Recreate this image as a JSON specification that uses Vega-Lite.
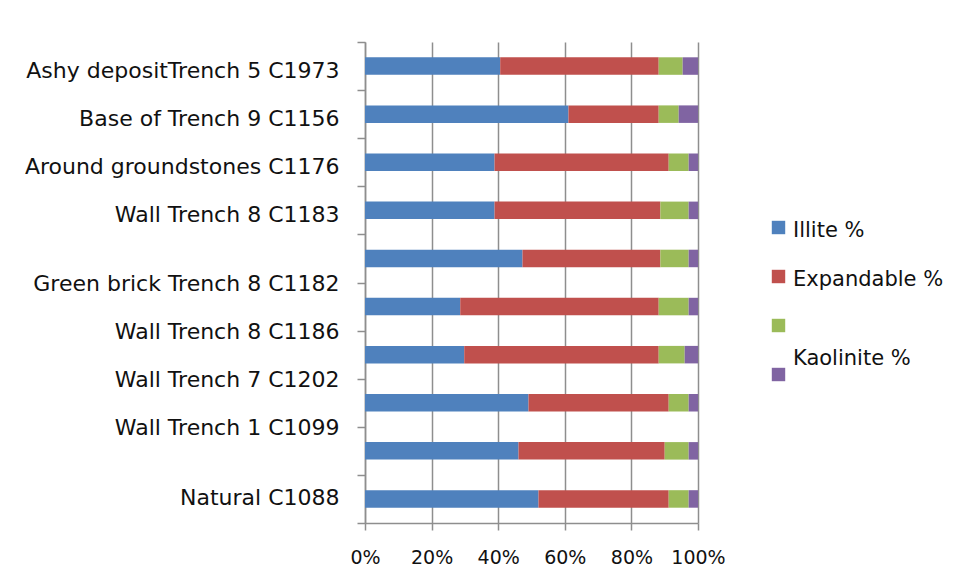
{
  "$schema": "https://vega.github.io/schema/vega-lite/v6.json",
  "width": 333,
  "height": 481,
  "autosize": {"type": "none"},
  "padding": {"left": 365, "top": 42, "right": 261, "bottom": 60},
  "background": "white",
  "config": {
    "view": {"stroke": null},
    "font": "DejaVu Sans",
    "axis": {"labelFont": "DejaVu Sans", "labelColor": "#111111"},
    "legend": {"labelFont": "DejaVu Sans", "labelColor": "#111111"}
  },
  "data": {
    "values": [
      {"sample": "Ashy depositTrench 5 C1973", "series": "Illite %", "rank": 1, "value": 40.6},
      {"sample": "Ashy depositTrench 5 C1973", "series": "Expandable %", "rank": 2, "value": 47.6},
      {"sample": "Ashy depositTrench 5 C1973", "series": "Unlabelled", "rank": 3, "value": 7.2},
      {"sample": "Ashy depositTrench 5 C1973", "series": "Kaolinite %", "rank": 4, "value": 4.6},
      {"sample": "Base of Trench 9 C1156", "series": "Illite %", "rank": 1, "value": 61.1},
      {"sample": "Base of Trench 9 C1156", "series": "Expandable %", "rank": 2, "value": 27.1},
      {"sample": "Base of Trench 9 C1156", "series": "Unlabelled", "rank": 3, "value": 6.0},
      {"sample": "Base of Trench 9 C1156", "series": "Kaolinite %", "rank": 4, "value": 5.8},
      {"sample": "Around groundstones C1176", "series": "Illite %", "rank": 1, "value": 38.9},
      {"sample": "Around groundstones C1176", "series": "Expandable %", "rank": 2, "value": 52.3},
      {"sample": "Around groundstones C1176", "series": "Unlabelled", "rank": 3, "value": 6.0},
      {"sample": "Around groundstones C1176", "series": "Kaolinite %", "rank": 4, "value": 2.8},
      {"sample": "Wall Trench 8 C1183", "series": "Illite %", "rank": 1, "value": 38.9},
      {"sample": "Wall Trench 8 C1183", "series": "Expandable %", "rank": 2, "value": 49.8},
      {"sample": "Wall Trench 8 C1183", "series": "Unlabelled", "rank": 3, "value": 8.5},
      {"sample": "Wall Trench 8 C1183", "series": "Kaolinite %", "rank": 4, "value": 2.8},
      {"sample": "Green brick Trench 8 C1182", "series": "Illite %", "rank": 1, "value": 47.3},
      {"sample": "Green brick Trench 8 C1182", "series": "Expandable %", "rank": 2, "value": 41.4},
      {"sample": "Green brick Trench 8 C1182", "series": "Unlabelled", "rank": 3, "value": 8.5},
      {"sample": "Green brick Trench 8 C1182", "series": "Kaolinite %", "rank": 4, "value": 2.8},
      {"sample": "Wall Trench 8 C1186", "series": "Illite %", "rank": 1, "value": 28.6},
      {"sample": "Wall Trench 8 C1186", "series": "Expandable %", "rank": 2, "value": 59.6},
      {"sample": "Wall Trench 8 C1186", "series": "Unlabelled", "rank": 3, "value": 9.0},
      {"sample": "Wall Trench 8 C1186", "series": "Kaolinite %", "rank": 4, "value": 2.8},
      {"sample": "Wall Trench 7 C1202", "series": "Illite %", "rank": 1, "value": 29.8},
      {"sample": "Wall Trench 7 C1202", "series": "Expandable %", "rank": 2, "value": 58.4},
      {"sample": "Wall Trench 7 C1202", "series": "Unlabelled", "rank": 3, "value": 7.8},
      {"sample": "Wall Trench 7 C1202", "series": "Kaolinite %", "rank": 4, "value": 4.0},
      {"sample": "Wall Trench 1 C1099", "series": "Illite %", "rank": 1, "value": 49.1},
      {"sample": "Wall Trench 1 C1099", "series": "Expandable %", "rank": 2, "value": 42.1},
      {"sample": "Wall Trench 1 C1099", "series": "Unlabelled", "rank": 3, "value": 6.0},
      {"sample": "Wall Trench 1 C1099", "series": "Kaolinite %", "rank": 4, "value": 2.8},
      {"sample": "", "series": "Illite %", "rank": 1, "value": 46.1},
      {"sample": "", "series": "Expandable %", "rank": 2, "value": 43.9},
      {"sample": "", "series": "Unlabelled", "rank": 3, "value": 7.2},
      {"sample": "", "series": "Kaolinite %", "rank": 4, "value": 2.8},
      {"sample": "Natural C1088", "series": "Illite %", "rank": 1, "value": 52.1},
      {"sample": "Natural C1088", "series": "Expandable %", "rank": 2, "value": 39.1},
      {"sample": "Natural C1088", "series": "Unlabelled", "rank": 3, "value": 6.0},
      {"sample": "Natural C1088", "series": "Kaolinite %", "rank": 4, "value": 2.8}
    ]
  },
  "mark": {"type": "bar", "height": {"band": 0.364}, "orient": "horizontal"},
  "encoding": {
    "y": {
      "field": "sample",
      "type": "nominal",
      "sort": null,
      "scale": {"paddingInner": 0, "paddingOuter": 0},
      "axis": {
        "title": null,
        "tickBand": "extent",
        "tickSize": 8,
        "tickColor": "#8e8e8e",
        "tickWidth": 1.5,
        "domainColor": "#8e8e8e",
        "domainWidth": 1.5,
        "labelFontSize": 22,
        "labelPadding": 18,
        "labelLimit": 400,
        "labelOffset": {
          "condition": [
            {"test": "datum.value === 'Natural C1088'", "value": -1},
            {"test": "indexof(['Green brick Trench 8 C1182','Wall Trench 8 C1186','Wall Trench 7 C1202','Wall Trench 1 C1099'], datum.value) >= 0", "value": 25}
          ],
          "value": 4.5
        }
      }
    },
    "x": {
      "field": "value",
      "type": "quantitative",
      "stack": "normalize",
      "scale": {"domain": [0, 1], "nice": false},
      "axis": {
        "title": null,
        "values": [0, 0.2, 0.4, 0.6, 0.8, 1],
        "format": ".0%",
        "grid": true,
        "gridColor": "#8e8e8e",
        "gridWidth": 1.5,
        "tickSize": 7,
        "tickColor": "#8e8e8e",
        "tickWidth": 1.5,
        "domainColor": "#8e8e8e",
        "domainWidth": 1.5,
        "labelFontSize": 19,
        "labelPadding": 18,
        "labelFlush": false
      }
    },
    "order": {"field": "rank", "type": "quantitative"},
    "color": {
      "field": "series",
      "type": "nominal",
      "scale": {
        "domain": ["Illite %", "Expandable %", "Unlabelled", "Kaolinite %"],
        "range": ["#4F81BD", "#C0504D", "#9BBB59", "#8064A2"]
      },
      "legend": {
        "title": null,
        "orient": "none",
        "legendX": 403,
        "legendY": 175,
        "padding": 0,
        "symbolType": "square",
        "symbolSize": 180,
        "symbolStrokeWidth": 0,
        "labelFontSize": 21,
        "labelOffset": 4,
        "rowPadding": 8,
        "labelExpr": "datum.label === 'Unlabelled' ? ['', ''] : (datum.label === 'Kaolinite %' ? ['Kaolinite %', ''] : ['', datum.label])",
        "encode": {
          "labels": {"update": {"dy": {"value": -16}, "lineHeight": {"value": 19}}}
        }
      }
    }
  }
}
